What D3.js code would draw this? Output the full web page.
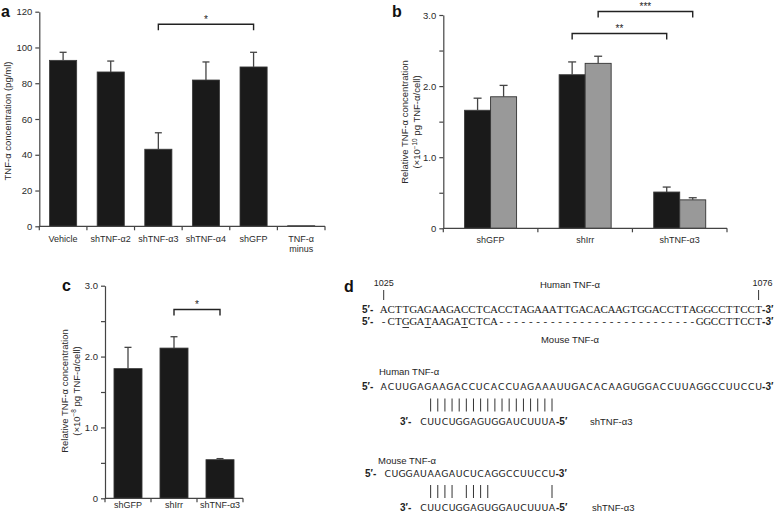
<!DOCTYPE html>
<html><head><meta charset="utf-8">
<script src="https://cdn.jsdelivr.net/npm/d3@7"></script>
<style>
body{margin:0;background:#fff;}
svg{display:block;font-family:"Liberation Sans",Arial,sans-serif;}
</style></head>
<body>
<script>
// ---------- Panel a data ----------
const catsA = ["Vehicle","shTNF-α2","shTNF-α3","shTNF-α4","shGFP","TNF-α minus"];
const valsA = [92.8, 86.3, 43.1, 81.8, 89.1, 0.3];
const errA  = [4.5, 6.1, 9.2, 10.1, 8.2, 0];
const ticksA = [0,20,40,60,80,100,120];
const sigA = [{from:"shTNF-α3", to:"shGFP", level:113, label:"*"}];

// ---------- Panel b data ----------
const catsB = ["shGFP","shIrr","shTNF-α3"];
const valsB1 = [1.66, 2.16, 0.51];
const errB1  = [0.17, 0.18, 0.07];
const valsB2 = [1.85, 2.32, 0.40];
const errB2  = [0.16, 0.10, 0.03];
const ticksB = [0,0.5,1,1.5,2,2.5,3];
const sigB = [
  {from:["shIrr",0], to:["shTNF-α3",0], level:2.74, label:"**"},
  {from:["shIrr",1], to:["shTNF-α3",1], level:3.05, label:"***"}
];

// ---------- Panel c data ----------
const catsC = ["shGFP","shIrr","shTNF-α3"];
const valsC = [1.83, 2.12, 0.545];
const errC  = [0.30, 0.16, 0.015];
const ticksC = [0,0.5,1,1.5,2,2.5,3];
const sigC = [{from:"shIrr", to:"shTNF-α3", level:2.665, label:"*"}];

// ---------- Panel d data ----------
const humanDNA = "ACTTGAGAAGACCTCACCTAGAAATTGACACAAGTGGACCTTAGGCCTTCCT";
const mouseDNA = "-CTGGATAAGATCTCA---------------------------GGCCTTCCT";
const mismatchDNA = [3, 6, 11];
const humanRNA = "ACUUGAGAAGACCUCACCUAGAAAUUGACACAAGUGGACCUUAGGCCUUCCU";
const mouseRNA = "CUGGAUAAGAUCUCAGGCCUUCCU";
const shRNA = "CUUCUGGAGUGGAUCUUUA";
const pairsHuman = [1,2,3,4,5,6,7,8,9,10,11,12,13,14,15,16,17,18];
const pairsMouse = [1,2,3,4,6,7,8,9,18];
const positionLabels = ["1025","1076"];

const TXT = "#2a2a2a";
const svg = d3.select("body").append("svg").attr("width",777).attr("height",515);
svg.append("rect").attr("width",777).attr("height",515).attr("fill","#fff");

function panelLetter(t,x,y){
  svg.append("text").attr("x",x).attr("y",y).text(t)
    .attr("font-size",16).attr("font-weight","bold").attr("fill","#111");
}
function yAxis(g, y, ticks, fmt, x0){
  const ax = d3.axisLeft(y).tickValues(ticks).tickFormat(fmt).tickSize(4).tickPadding(3).tickSizeOuter(0);
  const a = g.append("g").attr("transform",`translate(${x0},0)`).call(ax);
  a.selectAll("path,line").attr("stroke","#444").attr("stroke-width",1.2);
  a.selectAll("text").attr("font-size",9.5).attr("fill",TXT).attr("font-family","Liberation Sans, Arial, sans-serif");
}
function xAxis(g, x, y0){
  const r = x.range();
  g.append("line").attr("x1",r[0]).attr("x2",r[1]).attr("y1",y0).attr("y2",y0)
    .attr("stroke","#444").attr("stroke-width",1.2);
  const n = x.domain().length;
  g.selectAll(null).data(d3.range(n+1)).enter().append("line")
    .attr("x1",i=>r[0]+i*x.step()).attr("x2",i=>r[0]+i*x.step())
    .attr("y1",y0).attr("y2",y0+4).attr("stroke","#444").attr("stroke-width",1.2);
}
function errBars(g, xs, ytops, yerrs, cap){
  xs.forEach((cx,i)=>{
    if(yerrs[i]===null) return;
    g.append("line").attr("x1",cx).attr("x2",cx).attr("y1",ytops[i]).attr("y2",yerrs[i])
      .attr("stroke","#444").attr("stroke-width",1.3);
    g.append("line").attr("x1",cx-cap/2).attr("x2",cx+cap/2).attr("y1",yerrs[i]).attr("y2",yerrs[i])
      .attr("stroke","#444").attr("stroke-width",1.3);
  });
}
function bracket(g,x1,x2,yv,label){
  g.append("path").attr("d",`M${x1},${yv+6}V${yv}H${x2}V${yv+6}`)
    .attr("fill","none").attr("stroke","#222").attr("stroke-width",1.4);
  g.append("text").attr("x",(x1+x2)/2).attr("y",yv-1.5).attr("text-anchor","middle")
    .attr("font-size",10).attr("fill","#222").text(label);
}
function yLabel(g, lines, xs, cy){
  lines.forEach((ln,i)=>{
    const t = g.append("text").attr("transform",`translate(${xs[i]},${cy}) rotate(-90)`)
      .attr("text-anchor","middle").attr("font-size",9.5).attr("fill",TXT);
    ln.forEach(part=>{
      const ts = t.append("tspan").text(part.t);
      if(part.sup){ ts.attr("font-size",6.5).attr("dy",-3.5); }
      else if(part.after){ ts.attr("dy",3.5); }
    });
  });
}

// ================= Panel a =================
{
  const g = svg.append("g");
  panelLetter("a",1,17);
  const y = d3.scaleLinear().domain([0,120]).range([226.3,11.7]);
  const x = d3.scaleBand().domain(catsA).range([39.3,325]).paddingInner(0.43).paddingOuter(0.215);
  g.selectAll(null).data(catsA).enter().append("rect")
    .attr("x",d=>x(d)).attr("width",x.bandwidth())
    .attr("y",(d,i)=>y(valsA[i])).attr("height",(d,i)=>y(0)-y(valsA[i]))
    .attr("fill","#1a1a1a").attr("stroke","#3a3a3a").attr("stroke-width",0.8);
  errBars(g, catsA.map(d=>x(d)+x.bandwidth()/2), valsA.map(v=>y(v)),
    errA.map((e,i)=> e>0 ? y(valsA[i]+e) : null), 7);
  yAxis(g, y, ticksA, d=>d, 39.3);
  xAxis(g, x, 226.3);
  catsA.forEach(c=>{
    const parts = c==="TNF-α minus" ? ["TNF-α","minus"] : [c];
    parts.forEach((p,k)=>{
      g.append("text").attr("x",x(c)+x.bandwidth()/2).attr("y",241.5+k*10)
        .attr("text-anchor","middle").attr("font-size",9).attr("fill",TXT).text(p);
    });
  });
  sigA.forEach(s=> bracket(g, x(s.from)+x.bandwidth()/2, x(s.to)+x.bandwidth()/2, y(s.level), s.label));
  yLabel(g, [[{t:"TNF-α concentration (pg/ml)"}]], [10.5], 121);
}

// ================= Panel b =================
{
  const g = svg.append("g");
  panelLetter("b",392,17);
  const y = d3.scaleLinear().domain([0,3]).range([228.3,15]);
  const x0 = d3.scaleBand().domain(catsB).range([443.3,727]).paddingInner(0.45).paddingOuter(0.225);
  const x1 = d3.scaleBand().domain([0,1]).range([0,x0.bandwidth()]);
  const sets = [{v:valsB1,e:errB1,fill:"#1a1a1a",stroke:"#3a3a3a"},{v:valsB2,e:errB2,fill:"#999",stroke:"#333"}];
  sets.forEach((s,si)=>{
    g.selectAll(null).data(catsB).enter().append("rect")
      .attr("x",d=>x0(d)+x1(si)).attr("width",x1.bandwidth())
      .attr("y",(d,i)=>y(s.v[i])).attr("height",(d,i)=>y(0)-y(s.v[i]))
      .attr("fill",s.fill).attr("stroke",s.stroke).attr("stroke-width",0.9);
    errBars(g, catsB.map(d=>x0(d)+x1(si)+x1.bandwidth()/2), s.v.map(v=>y(v)),
      s.e.map((e,i)=>y(s.v[i]+e)), 8);
  });
  yAxis(g, y, ticksB, d=> d===0 ? "0" : (d%1===0 ? d.toFixed(1) : ""), 443.3);
  xAxis(g, x0, 228.3);
  catsB.forEach(c=>{
    g.append("text").attr("x",x0(c)+x0.bandwidth()/2).attr("y",243)
      .attr("text-anchor","middle").attr("font-size",9).attr("fill",TXT).text(c);
  });
  sigB.forEach(s=> bracket(g,
    x0(s.from[0])+x1(s.from[1])+x1.bandwidth()/2,
    x0(s.to[0])+x1(s.to[1])+x1.bandwidth()/2, y(s.level), s.label));
  yLabel(g, [[{t:"Relative TNF-α concentration"}],
             [{t:"(×10"},{t:"−10",sup:true},{t:" pg TNF-α/cell)",after:true}]], [407.5,420], 122);
}

// ================= Panel c =================
{
  const g = svg.append("g");
  panelLetter("c",62,291);
  const y = d3.scaleLinear().domain([0,3]).range([498.3,285.7]);
  const x = d3.scaleBand().domain(catsC).range([105,243]).paddingInner(0.39).paddingOuter(0.195);
  g.selectAll(null).data(catsC).enter().append("rect")
    .attr("x",d=>x(d)).attr("width",x.bandwidth())
    .attr("y",(d,i)=>y(valsC[i])).attr("height",(d,i)=>y(0)-y(valsC[i]))
    .attr("fill","#1a1a1a").attr("stroke","#3a3a3a").attr("stroke-width",0.8);
  errBars(g, catsC.map(d=>x(d)+x.bandwidth()/2), valsC.map(v=>y(v)),
    errC.map((e,i)=>y(valsC[i]+e)), 7);
  yAxis(g, y, ticksC, d=> d===0 ? "0" : (d%1===0 ? d.toFixed(1) : ""), 105);
  xAxis(g, x, 498.3);
  catsC.forEach(c=>{
    g.append("text").attr("x",x(c)+x.bandwidth()/2).attr("y",508)
      .attr("text-anchor","middle").attr("font-size",9).attr("fill",TXT).text(c);
  });
  sigC.forEach(s=> bracket(g, x(s.from)+x.bandwidth()/2, x(s.to)+x.bandwidth()/2, y(s.level), s.label));
  yLabel(g, [[{t:"Relative TNF-α concentration"}],
             [{t:"(×10"},{t:"−8",sup:true},{t:" pg TNF-α/cell)",after:true}]], [67.5,79.5], 391);
}

// ================= Panel d =================
{
  const g = svg.append("g");
  panelLetter("d",344,292);
  const serif = "Liberation Serif, DejaVu Serif, serif";
  const posX = d3.scaleLinear().domain([0,51]).range([383.7,758.6]); // nucleotide position -> x
  function seqRow(seq, xs, yb, font, size, fill){
    g.selectAll(null).data(seq.split("")).enter().append("text")
      .attr("x",(c,i)=>xs(i)).attr("y",yb).attr("text-anchor","middle")
      .attr("font-family",font).attr("font-size",size).attr("fill",fill).text(c=>c);
  }
  function tag(t,x,yb,anchor,size,weight){
    g.append("text").attr("x",x).attr("y",yb).attr("text-anchor",anchor||"start")
      .attr("font-size",size||9.5).attr("font-weight",weight||"normal").attr("fill","#1e1e1e").text(t);
  }
  // block 1 : DNA alignment
  tag("Human TNF-α",570,287.5,"middle",9.5);
  tag("Mouse TNF-α",570,342.5,"middle",9.5);
  [0,51].forEach((p,k)=>{
    tag(positionLabels[k], posX(p)+(k?4:0), 286, "middle", 9);
    g.append("line").attr("x1",posX(p)).attr("x2",posX(p)).attr("y1",290).attr("y2",300)
      .attr("stroke","#333").attr("stroke-width",1);
  });
  tag("5′-",362,313,"start",10,"bold");
  seqRow(humanDNA, posX, 313, serif, 11, "#222");
  tag("-3′",posX(51)+3.5,313,"start",10,"bold");
  tag("5′-",362,325,"start",10,"bold");
  seqRow(mouseDNA, posX, 325, serif, 11, "#222");
  tag("-3′",posX(51)+3.5,325,"start",10,"bold");
  g.selectAll(null).data(mismatchDNA).enter().append("line")
    .attr("x1",p=>posX(p)-3.3).attr("x2",p=>posX(p)+3.3).attr("y1",327.5).attr("y2",327.5)
    .attr("stroke","#222").attr("stroke-width",0.9);

  // block 2 : human mRNA vs shRNA
  const rnaFont = "DejaVu Sans, Liberation Sans, sans-serif";
  const hX = d3.scaleLinear().domain([0,51]).range([383.7,758.6]);
  const shX = d3.scaleLinear().domain([0,18]).range([423.5,552]);
  const mX = d3.scaleLinear().domain([5,23]).range([423.5,552]);
  tag("Human TNF-α",379,375,"start",9.5);
  tag("5′-",362,389.5,"start",10,"bold");
  seqRow(humanRNA, hX, 389.5, rnaFont, 9.3, "#1a1a1a");
  tag("-3′",hX(51)+3.5,389.5,"start",10,"bold");
  g.selectAll(null).data(pairsHuman).enter().append("line")
    .attr("x1",i=>shX(i)).attr("x2",i=>shX(i)).attr("y1",398.5).attr("y2",411.5)
    .attr("stroke","#333").attr("stroke-width",1);
  tag("3′-",400,425,"start",10,"bold");
  seqRow(shRNA, shX, 425, rnaFont, 9.3, "#1a1a1a");
  tag("-5′",556,425,"start",10,"bold");
  tag("shTNF-α3",590,425,"start",9.5);

  // block 3 : mouse mRNA vs shRNA
  tag("Mouse TNF-α",378,463.5,"start",9.5);
  tag("5′-",365,477,"start",10,"bold");
  seqRow(mouseRNA, mX, 477, rnaFont, 9.3, "#1a1a1a");
  tag("-3′",mX(23)+3.5,477,"start",10,"bold");
  g.selectAll(null).data(pairsMouse).enter().append("line")
    .attr("x1",i=>shX(i)).attr("x2",i=>shX(i)).attr("y1",485).attr("y2",498)
    .attr("stroke","#333").attr("stroke-width",1);
  tag("3′-",400,511,"start",10,"bold");
  seqRow(shRNA, shX, 511, rnaFont, 9.3, "#1a1a1a");
  tag("-5′",556,511,"start",10,"bold");
  tag("shTNF-α3",592,511,"start",9.5);
}
</script>
</body></html>
